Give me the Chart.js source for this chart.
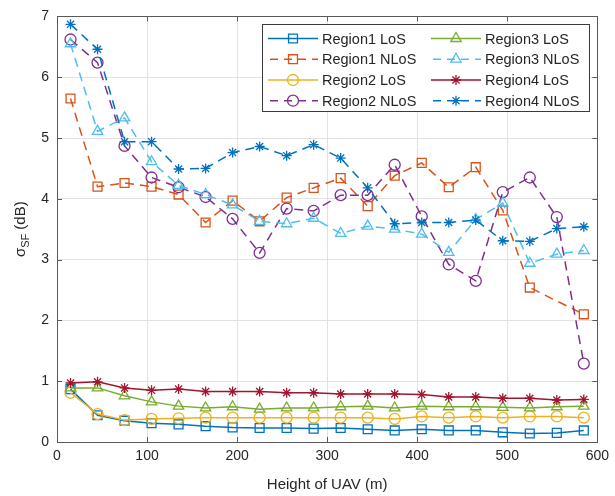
<!DOCTYPE html>
<html>
<head>
<meta charset="utf-8">
<script src="https://cdn.jsdelivr.net/npm/chart.js@4.4.1/dist/chart.umd.min.js"></script>
<style>
  html, body { margin: 0; padding: 0; background: #fff; }
  #wrap { width: 615px; height: 496px; }
</style>
</head>
<body>
<div id="wrap"><canvas id="grafico" width="615" height="496"></canvas></div>
<script>
// --- datos ---
const alturas = [15, 45, 75, 105, 135, 165, 195, 225, 255, 285, 315, 345, 375, 405, 435, 465, 495, 525, 555, 585];

const region1LoS  = [0.87, 0.44, 0.35, 0.31, 0.29, 0.26, 0.24, 0.23, 0.23, 0.22, 0.23, 0.21, 0.19, 0.21, 0.19, 0.19, 0.16, 0.14, 0.15, 0.19];
const region1NLoS = [5.65, 4.20, 4.26, 4.20, 4.07, 3.61, 3.97, 3.63, 4.02, 4.18, 4.34, 3.88, 4.38, 4.59, 4.19, 4.52, 3.81, 2.54, null, 2.10];
const region2LoS  = [0.81, 0.46, 0.36, 0.38, 0.39, 0.40, 0.40, 0.40, 0.40, 0.40, 0.40, 0.40, 0.38, 0.42, 0.40, 0.42, 0.40, 0.42, 0.42, 0.40];
const region2NLoS = [6.62, 6.24, 4.87, 4.35, 4.19, 4.03, 3.67, 3.11, 3.84, 3.80, 4.06, 4.06, 4.56, 3.71, 2.92, 2.65, 4.11, 4.35, 3.70, 1.29];
const region3LoS  = [0.89, 0.89, 0.76, 0.66, 0.59, 0.56, 0.58, 0.54, 0.56, 0.56, 0.58, 0.59, 0.56, 0.59, 0.58, 0.58, 0.57, 0.56, 0.58, 0.59];
const region3NLoS = [6.55, 5.11, 5.33, 4.61, 4.22, 4.07, 3.90, 3.63, 3.59, 3.68, 3.43, 3.55, 3.50, 3.42, 3.12, 3.66, 3.93, 2.94, 3.09, 3.15];
const region4LoS  = [0.97, 0.99, 0.89, 0.85, 0.87, 0.83, 0.83, 0.83, 0.81, 0.81, 0.79, 0.79, 0.79, 0.78, 0.74, 0.74, 0.72, 0.72, 0.69, 0.70];
const region4NLoS = [6.87, 6.46, 4.94, 4.94, 4.49, 4.50, 4.76, 4.86, 4.71, 4.89, 4.67, 4.18, 3.59, 3.61, 3.61, 3.65, 3.31, 3.30, 3.51, 3.54];

const ticksX = [0, 100, 200, 300, 400, 500, 600];
const ticksY = [0, 1, 2, 3, 4, 5, 6, 7];

const FUENTE = "'Liberation Sans', Arial, Helvetica, sans-serif";
const GRIS = '#262626';

function serie(label, valores, color, punto, radio, discontinua) {
    return {
        label: label,
        data: valores.map((v, i) => ({ x: alturas[i], y: v })),
        borderColor: color,
        backgroundColor: 'rgba(0,0,0,0)',
        pointBackgroundColor: 'rgba(0,0,0,0)',
        pointBorderColor: color,
        pointStyle: punto,
        pointRadius: radio,
        pointBorderWidth: 1.3,
        borderWidth: 1.5,
        borderDash: discontinua ? [9, 6] : [],
        spanGaps: true,
        tension: 0
    };
}

const datasets = [
    serie('Region1 LoS',  region1LoS,  '#0072BD', 'rect', 6.3, false),
    serie('Region1 NLoS', region1NLoS, '#D95319', 'rect', 6.3, true),
    serie('Region2 LoS',  region2LoS,  '#EDB120', 'circle', 5.5, false),
    serie('Region2 NLoS', region2NLoS, '#7E2F8E', 'circle', 5.5, true),
    serie('Region3 LoS',  region3LoS,  '#77AC30', 'triangle', 6, false),
    serie('Region3 NLoS', region3NLoS, '#4DBEEE', 'triangle', 6, true),
    serie('Region4 LoS',  region4LoS,  '#A2142F', 'star', 5, false),
    serie('Region4 NLoS', region4NLoS, '#0072BD', 'star', 5, true)
];
// las ultimas series quedan encima, como en MATLAB
datasets.forEach((d, i) => { d.order = datasets.length - i; });

// caja, marcas hacia dentro y titulos de ejes
const ejesMatlab = {
    id: 'ejesMatlab',
    beforeDatasetsDraw(chart) {
        const { ctx, chartArea: a, scales } = chart;
        ctx.save();
        ctx.strokeStyle = '#5a5a5a';
        ctx.lineWidth = 1;
        ctx.strokeRect(Math.round(a.left) + 0.5, Math.round(a.top) + 0.5,
            Math.round(a.right - a.left), Math.round(a.bottom - a.top));
        ctx.beginPath();
        ticksX.forEach(v => {
            const px = Math.round(scales.x.getPixelForValue(v)) + 0.5;
            ctx.moveTo(px, a.bottom); ctx.lineTo(px, a.bottom - 5);
            ctx.moveTo(px, a.top); ctx.lineTo(px, a.top + 5);
        });
        ticksY.forEach(v => {
            const py = Math.round(scales.y.getPixelForValue(v)) + 0.5;
            ctx.moveTo(a.left, py); ctx.lineTo(a.left + 5, py);
            ctx.moveTo(a.right, py); ctx.lineTo(a.right - 5, py);
        });
        ctx.stroke();
        ctx.restore();
    },
    afterDraw(chart) {
        const { ctx, chartArea: a } = chart;
        ctx.save();
        ctx.fillStyle = GRIS;
        // titulo eje x
        ctx.font = '15px ' + FUENTE;
        ctx.textAlign = 'center';
        ctx.textBaseline = 'middle';
        ctx.fillText('Height of UAV (m)', (a.left + a.right) / 2, 485);
        // titulo eje y con subindice
        ctx.translate(20, (a.top + a.bottom) / 2);
        ctx.rotate(-Math.PI / 2);
        ctx.textAlign = 'left';
        ctx.textBaseline = 'alphabetic';
        ctx.font = '15px ' + FUENTE;
        const wSigma = ctx.measureText('σ').width;
        const wResto = ctx.measureText(' (dB)').width;
        ctx.font = '11px ' + FUENTE;
        const wSub = ctx.measureText('SF').width;
        let x0 = -(wSigma + wSub + wResto) / 2;
        ctx.font = '15px ' + FUENTE;
        ctx.fillText('σ', x0, 5);
        ctx.font = '11px ' + FUENTE;
        ctx.fillText('SF', x0 + wSigma, 9);
        ctx.font = '15px ' + FUENTE;
        ctx.fillText(' (dB)', x0 + wSigma + wSub, 5);
        ctx.restore();
    }
};

// leyenda en dos columnas (orden por columnas)
const leyendaMatlab = {
    id: 'leyendaMatlab',
    afterDraw(chart) {
        const ctx = chart.ctx;
        const caja = { x: 262, y: 24, w: 327, h: 87 };
        ctx.save();
        ctx.fillStyle = '#fff';
        ctx.fillRect(caja.x, caja.y, caja.w, caja.h);
        ctx.strokeStyle = '#3a3a3a';
        ctx.lineWidth = 1;
        ctx.strokeRect(caja.x + 0.5, caja.y + 0.5, caja.w, caja.h);
        const columnas = [268, 431];
        const filas = [38.5, 59.2, 80, 100.7];
        chart.data.datasets.forEach((d, i) => {
            const x = columnas[Math.floor(i / 4)];
            const y = filas[i % 4];
            ctx.strokeStyle = d.borderColor;
            ctx.lineWidth = 1.5;
            ctx.setLineDash(d.borderDash.length ? [8, 6] : []);
            ctx.lineDashOffset = d.borderDash.length ? -2 : 0;
            ctx.beginPath();
            ctx.moveTo(x, y); ctx.lineTo(x + 50, y);
            ctx.stroke();
            ctx.setLineDash([]);
            ctx.fillStyle = 'rgba(0,0,0,0)';
            ctx.lineWidth = 1.3;
            Chart.helpers.drawPoint(ctx, {
                pointStyle: d.pointStyle, radius: d.pointRadius,
                borderWidth: 1.3, rotation: 0
            }, x + 25, y);
            ctx.fillStyle = GRIS;
            ctx.font = '14.5px ' + FUENTE;
            ctx.textAlign = 'left';
            ctx.textBaseline = 'middle';
            ctx.fillText(d.label, x + 54, y + 1);
        });
        ctx.restore();
    }
};

new Chart(document.getElementById('grafico').getContext('2d'), {
    type: 'line',
    data: { datasets: datasets },
    options: {
        responsive: false,
        animation: false,
        layout: { padding: { top: 10, right: 13, left: 0, bottom: 0 } },
        plugins: { legend: { display: false }, tooltip: { enabled: false } },
        scales: {
            x: {
                type: 'linear', min: 0, max: 600,
                afterFit: s => { s.height = 54; },
                afterBuildTicks: s => { s.ticks = ticksX.map(v => ({ value: v })); },
                grid: { color: '#e2e2e2', drawTicks: false },
                border: { display: false },
                ticks: { color: GRIS, font: { family: FUENTE, size: 14 }, padding: 6, maxRotation: 0 }
            },
            y: {
                type: 'linear', min: 0, max: 7,
                afterFit: s => { s.width = 57; },
                afterBuildTicks: s => { s.ticks = ticksY.map(v => ({ value: v })); },
                grid: { color: '#e2e2e2', drawTicks: false },
                border: { display: false },
                ticks: { color: GRIS, font: { family: FUENTE, size: 14 }, padding: 8 }
            }
        }
    },
    plugins: [ejesMatlab, leyendaMatlab]
});
</script>
</body>
</html>
